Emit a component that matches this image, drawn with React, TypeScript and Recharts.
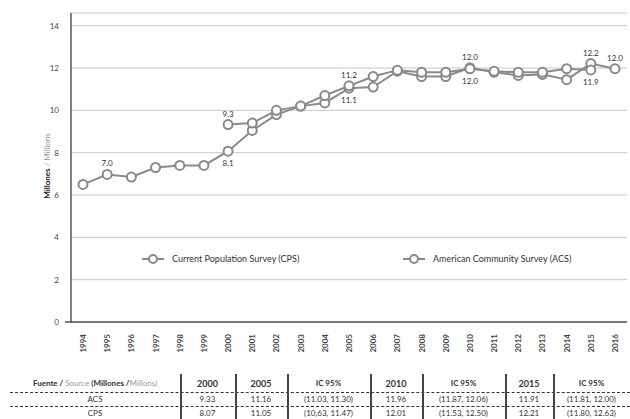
import { LineChart, Line, XAxis, YAxis, CartesianGrid } from 'recharts';

const years = [1994, 1995, 1996, 1997, 1998, 1999, 2000, 2001, 2002, 2003, 2004, 2005, 2006, 2007, 2008, 2009, 2010, 2011, 2012, 2013, 2014, 2015, 2016];
const cps = [6.5, 6.97, 6.85, 7.3, 7.4, 7.4, 8.07, 9.05, 9.8, 10.2, 10.35, 11.05, 11.1, 11.85, 11.6, 11.6, 12.01, 11.8, 11.65, 11.7, 11.45, 12.21, 11.97];
const acs = [null, null, null, null, null, null, 9.33, 9.4, 10.0, 10.2, 10.7, 11.16, 11.6, 11.9, 11.8, 11.8, 11.96, 11.85, 11.8, 11.8, 11.97, 11.91, null];
const labeledYears = [1995, 2000, 2005, 2010, 2015, 2016];
const yTicks = [0, 2, 4, 6, 8, 10, 12, 14];
const seriesNames = ['Current Population Survey (CPS)', 'American Community Survey (ACS)'];

const tableHeads = ['2000', '2005', 'IC 95%', '2010', 'IC 95%', '2015', 'IC 95%'];
const acsRow = ['9.33', '11.16', '(11.03, 11.30)', '11.96', '(11.87, 12.06)', '11.91', '(11.81, 12.00)'];
const cpsRow = ['8.07', '11.05', '(10,63, 11.47)', '12.01', '(11.53, 12.50)', '12.21', '(11.80, 12.63)'];

const data = years.map((year, i) => ({ year, cps: cps[i], acs: acs[i] }));

const GRAY = '#8a8a8a';
const FONT = 'Lato, "Open Sans", sans-serif';
const colEdges = [10, 180, 235, 287, 370, 422, 505, 553, 630];

function makeLabel(key: 'cps' | 'acs') {
  const other = key === 'cps' ? acs : cps;
  return (props: any) => {
    const { x, y, index, value } = props;
    if (value == null || !labeledYears.includes(years[index])) return null;
    const o = other[index];
    const above = o == null || value >= o;
    return (
      <text key={`${key}-${index}`} x={x} y={above ? y - 8 : y + 15} textAnchor="middle" fontSize={8} fill="#333" fontFamily={FONT}>
        {Number(value).toFixed(1)}
      </text>
    );
  };
}

function YearTick({ x, y, payload }: any) {
  return (
    <text x={x + 3} y={y + 4} transform={`rotate(-90 ${x + 3} ${y + 4})`} textAnchor="end" fontSize={8} fontWeight={700} fill="#444" fontFamily={FONT}>
      {payload.value}
    </text>
  );
}

function ValueTick({ x, y, payload }: any) {
  return (
    <g>
      {payload.value === 0 && <line x1={x + 2} y1={y} x2={x + 9} y2={y} stroke="#555" strokeWidth={1.5} />}
      <text x={x - 4} y={y + 3} textAnchor="end" fontSize={8} fill="#444" fontFamily={FONT}>
        {payload.value}
      </text>
    </g>
  );
}

function LegendIcon() {
  return (
    <svg width={22} height={10} style={{ display: 'block' }}>
      <line x1={0} y1={5} x2={22} y2={5} stroke={GRAY} strokeWidth={2} />
      <circle cx={11} cy={5} r={4} fill="#fff" stroke={GRAY} strokeWidth={2} />
    </svg>
  );
}

function SeriesLegend() {
  const lefts = [142, 403];
  return (
    <div style={{ position: 'absolute', left: 0, top: 253, width: 630, height: 14 }}>
      {seriesNames.map((name, i) => (
        <div key={name} style={{ position: 'absolute', left: lefts[i], top: 0, display: 'flex', alignItems: 'center', gap: 8, fontSize: 9, color: '#333', fontFamily: FONT }}>
          <LegendIcon />
          <span>{name}</span>
        </div>
      ))}
    </div>
  );
}

function Cell({ i, children, top }: { i: number; children: any; top: number }) {
  return (
    <div style={{ position: 'absolute', left: colEdges[i], width: colEdges[i + 1] - colEdges[i], top, textAlign: 'center', fontSize: 8, color: '#333', fontFamily: FONT, whiteSpace: 'nowrap' }}>
      {children}
    </div>
  );
}

function DataTable() {
  const dash = { position: 'absolute' as const, left: 10, width: 620, height: 0, borderTop: '1px dashed #333' };
  return (
    <div style={{ position: 'absolute', left: 0, top: 372, width: 630, height: 47 }}>
      <Cell i={0} top={6}>
        <span style={{ fontWeight: 700 }}>Fuente / </span>
        <span style={{ color: '#999' }}>Source </span>
        <span style={{ fontWeight: 700, color: '#333' }}>(Millones /</span>
        <span style={{ color: '#999' }}>Millons)</span>
      </Cell>
      {tableHeads.map((h, i) => (
        <Cell key={'h' + i} i={i + 1} top={6}>
          <span style={{ fontWeight: 700, fontSize: h === 'IC 95%' ? 8 : 9 }}>{h}</span>
        </Cell>
      ))}
      <div style={{ ...dash, top: 20 }} />
      <Cell i={0} top={22}>ACS</Cell>
      {acsRow.map((v, i) => (
        <Cell key={'a' + i} i={i + 1} top={22}>{v}</Cell>
      ))}
      <div style={{ ...dash, top: 34 }} />
      <Cell i={0} top={36}>CPS</Cell>
      {cpsRow.map((v, i) => (
        <Cell key={'c' + i} i={i + 1} top={36}>{v}</Cell>
      ))}
      {colEdges.slice(1, -1).map((x) => (
        <div key={x} style={{ position: 'absolute', left: x, top: 2, width: 1.5, height: 45, background: '#444' }} />
      ))}
    </div>
  );
}

export default function App() {
  return (
    <div style={{ position: 'absolute', left: 0, top: 0, width: 630, height: 419, background: '#fff', fontFamily: FONT }}>
      <LineChart width={630} height={352} data={data} margin={{ top: 13, right: 3, bottom: 4, left: 21 }}>
        <CartesianGrid vertical={false} stroke="#c8c8c8" />
        <XAxis dataKey="year" interval={0} padding={{ left: 12, right: 12 }} tick={<YearTick />} tickLine={false} axisLine={{ stroke: '#555', strokeWidth: 1.5 }} height={26} />
        <YAxis
          domain={[0, 14.6]}
          ticks={yTicks}
          width={50}
          tick={<ValueTick />}
          tickLine={false}
          axisLine={{ stroke: '#555', strokeWidth: 1.5 }}
          allowDataOverflow
          label={
            <text x={47} y={165} transform="rotate(-90 47 165)" textAnchor="middle" fontSize={8} fontFamily={FONT}>
              <tspan fontWeight={700} fill="#222">Millones</tspan>
              <tspan fill="#999"> / Millions</tspan>
            </text>
          }
        />
        <Line dataKey="cps" name={seriesNames[0]} stroke={GRAY} strokeWidth={2} dot={{ r: 4.5, fill: '#fff', stroke: GRAY, strokeWidth: 2 }} isAnimationActive={false} label={makeLabel('cps')} connectNulls={false} />
        <Line dataKey="acs" name={seriesNames[1]} stroke={GRAY} strokeWidth={2} dot={{ r: 4.5, fill: '#fff', stroke: GRAY, strokeWidth: 2 }} isAnimationActive={false} label={makeLabel('acs')} connectNulls={false} />
      </LineChart>
      <SeriesLegend />
      <DataTable />
    </div>
  );
}
